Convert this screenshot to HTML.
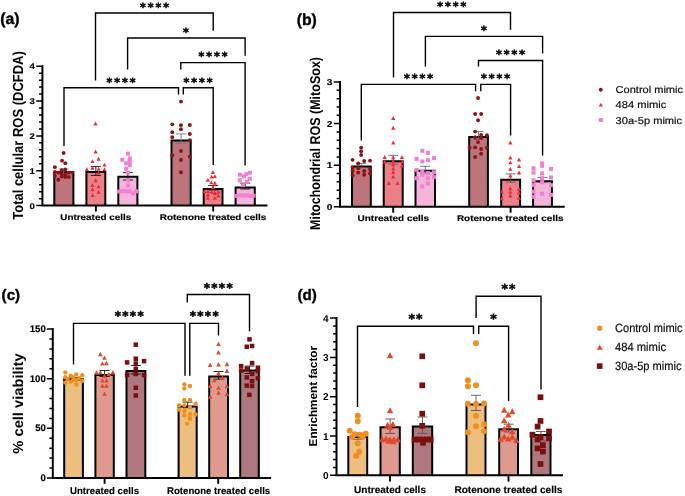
<!DOCTYPE html>
<html lang="en">
<head>
<meta charset="utf-8">
<title>ROS and cell viability figure</title>
<style>
html,body{margin:0;padding:0;background:#fff;}
body{width:685px;height:496px;overflow:hidden;}
svg{display:block;filter:blur(0.3px);}
svg text{font-family:"Liberation Sans",sans-serif;fill:#000;text-rendering:geometricPrecision;}
svg text.lg{fill:#111;stroke:#111;stroke-width:0.2px;}
svg text.bt{font-weight:bold;}
svg text.pl{font-weight:bold;stroke:#000;stroke-width:0.35px;}
svg text.b{font-weight:bold;stroke:#000;stroke-width:0.15px;}
svg text.st{font-family:"DejaVu Sans","Liberation Sans",sans-serif;font-weight:bold;stroke:#000;stroke-width:0.55px;}
</style>
</head>
<body>
<svg width="685" height="496" viewBox="0 0 685 496">
<rect width="685" height="496" fill="#fff"/>
<g>
<path d="M54.3 205.6V172H73.4V205.6" fill="#BD747B" stroke="#000" stroke-width="2"/>
<path d="M86.4 205.6V171.9H105.3V205.6" fill="#EC808A" stroke="#000" stroke-width="2"/>
<path d="M118.3 205.6V176.8H137.4V205.6" fill="#F4B4DC" stroke="#000" stroke-width="2"/>
<path d="M171.5 205.6V140.4H190.7V205.6" fill="#BD747B" stroke="#000" stroke-width="2"/>
<path d="M203.7 205.6V189H222.5V205.6" fill="#EC808A" stroke="#000" stroke-width="2"/>
<path d="M235.6 205.6V187.5H254.8V205.6" fill="#F4B4DC" stroke="#000" stroke-width="2"/>
<path d="M58.85 168.7H68.85M58.85 173.4H68.85M63.85 168.7V173.4" stroke="#a9a9a9" stroke-width="0.9" fill="none"/>
<path d="M90.85 166.4H100.85M90.85 175.4H100.85M95.85 166.4V175.4" stroke="#111" stroke-width="0.9" fill="none"/>
<path d="M122.85 172.6H132.85M122.85 180H132.85M127.85 172.6V180" stroke="#111" stroke-width="0.9" fill="none"/>
<path d="M176.1 133.9H186.1M176.1 143.2H186.1M181.1 133.9V143.2" stroke="#777" stroke-width="0.9" fill="none"/>
<path d="M208.1 185.6H218.1M208.1 190H218.1M213.1 185.6V190" stroke="#111" stroke-width="0.9" fill="none"/>
<path d="M240.2 183.2H250.2M240.2 189H250.2M245.2 183.2V189" stroke="#111" stroke-width="0.9" fill="none"/>
<circle cx="63.6" cy="153.04" r="1.95" fill="#8B1418"/>
<circle cx="62.05" cy="160.65" r="1.95" fill="#8B1418"/>
<circle cx="65.31" cy="163.29" r="1.95" fill="#8B1418"/>
<circle cx="54.91" cy="167.17" r="1.95" fill="#8B1418"/>
<circle cx="65.31" cy="169.5" r="1.95" fill="#8B1418"/>
<circle cx="61.74" cy="170.28" r="1.95" fill="#8B1418"/>
<circle cx="54.91" cy="171.83" r="1.95" fill="#8B1418"/>
<circle cx="58.32" cy="172.61" r="1.95" fill="#8B1418"/>
<circle cx="68.73" cy="172.61" r="1.95" fill="#8B1418"/>
<circle cx="72.14" cy="172.61" r="1.95" fill="#8B1418"/>
<circle cx="61.74" cy="174.16" r="1.95" fill="#8B1418"/>
<circle cx="65.31" cy="174.47" r="1.95" fill="#8B1418"/>
<circle cx="54.91" cy="176.02" r="1.95" fill="#8B1418"/>
<circle cx="61.74" cy="176.49" r="1.95" fill="#8B1418"/>
<circle cx="65.31" cy="176.96" r="1.95" fill="#8B1418"/>
<circle cx="68.73" cy="176.96" r="1.95" fill="#8B1418"/>
<circle cx="58.32" cy="179.75" r="1.95" fill="#8B1418"/>
<path d="M95.59 149.5L97.7 153.4L93.48 153.4Z" fill="#EE2A35"/>
<path d="M98.54 156.8L100.65 160.7L96.43 160.7Z" fill="#EE2A35"/>
<path d="M92.48 159.13L94.59 163.03L90.38 163.03Z" fill="#EE2A35"/>
<path d="M104.44 162.7L106.55 166.6L102.33 166.6Z" fill="#EE2A35"/>
<path d="M92.48 165.81L94.59 169.71L90.38 169.71Z" fill="#EE2A35"/>
<path d="M98.54 166.74L100.65 170.64L96.43 170.64Z" fill="#EE2A35"/>
<path d="M86.89 167.36L89 171.26L84.79 171.26Z" fill="#EE2A35"/>
<path d="M104.44 167.36L106.55 171.26L102.33 171.26Z" fill="#EE2A35"/>
<path d="M98.54 170.77L100.65 174.67L96.43 174.67Z" fill="#EE2A35"/>
<path d="M95.59 178.23L97.7 182.13L93.48 182.13Z" fill="#EE2A35"/>
<path d="M92.48 183.2L94.59 187.1L90.38 187.1Z" fill="#EE2A35"/>
<path d="M98.54 184.44L100.65 188.34L96.43 188.34Z" fill="#EE2A35"/>
<path d="M92.48 187.23L94.59 191.13L90.38 191.13Z" fill="#EE2A35"/>
<path d="M98.54 189.87L100.65 193.77L96.43 193.77Z" fill="#EE2A35"/>
<path d="M92.48 192.98L94.59 196.88L90.38 196.88Z" fill="#EE2A35"/>
<path d="M95.5 121.56L97.61 125.45L93.39 125.45Z" fill="#EE2A35"/>
<rect x="125.86" y="151.64" width="4.06" height="4.06" fill="#F27FD0"/>
<rect x="120.27" y="157.85" width="4.06" height="4.06" fill="#F27FD0"/>
<rect x="127.72" y="156.29" width="4.06" height="4.06" fill="#F27FD0"/>
<rect x="127.72" y="159.4" width="4.06" height="4.06" fill="#F27FD0"/>
<rect x="124.15" y="161.26" width="4.06" height="4.06" fill="#F27FD0"/>
<rect x="127.72" y="163.13" width="4.06" height="4.06" fill="#F27FD0"/>
<rect x="124.15" y="166.7" width="4.06" height="4.06" fill="#F27FD0"/>
<rect x="125.86" y="170.58" width="4.06" height="4.06" fill="#F27FD0"/>
<rect x="125.86" y="178.03" width="4.06" height="4.06" fill="#F27FD0"/>
<rect x="125.86" y="183.47" width="4.06" height="4.06" fill="#F27FD0"/>
<rect x="117.16" y="189.52" width="4.06" height="4.06" fill="#F27FD0"/>
<rect x="120.74" y="188.9" width="4.06" height="4.06" fill="#F27FD0"/>
<rect x="124.15" y="189.21" width="4.06" height="4.06" fill="#F27FD0"/>
<rect x="127.72" y="189.21" width="4.06" height="4.06" fill="#F27FD0"/>
<rect x="131.14" y="191.23" width="4.06" height="4.06" fill="#F27FD0"/>
<rect x="134.56" y="189.21" width="4.06" height="4.06" fill="#F27FD0"/>
<circle cx="180.97" cy="101.61" r="1.95" fill="#8B1418"/>
<circle cx="172.26" cy="124.35" r="1.95" fill="#8B1418"/>
<circle cx="180.97" cy="125.16" r="1.95" fill="#8B1418"/>
<circle cx="189.84" cy="125" r="1.95" fill="#8B1418"/>
<circle cx="180.97" cy="129.19" r="1.95" fill="#8B1418"/>
<circle cx="172.26" cy="132.26" r="1.95" fill="#8B1418"/>
<circle cx="189.84" cy="134.03" r="1.95" fill="#8B1418"/>
<circle cx="172.26" cy="137.26" r="1.95" fill="#8B1418"/>
<circle cx="189.84" cy="140.16" r="1.95" fill="#8B1418"/>
<circle cx="180.97" cy="150.97" r="1.95" fill="#8B1418"/>
<circle cx="172.26" cy="155.48" r="1.95" fill="#8B1418"/>
<circle cx="189.84" cy="156.61" r="1.95" fill="#8B1418"/>
<circle cx="180.97" cy="160" r="1.95" fill="#8B1418"/>
<circle cx="180.97" cy="172.26" r="1.95" fill="#8B1418"/>
<path d="M212.9 170.11L215.01 174.01L210.8 174.01Z" fill="#EE2A35"/>
<path d="M211.61 174.63L213.72 178.53L209.51 178.53Z" fill="#EE2A35"/>
<path d="M214.84 174.15L216.94 178.05L212.73 178.05Z" fill="#EE2A35"/>
<path d="M207.9 177.85L210.01 181.75L205.8 181.75Z" fill="#EE2A35"/>
<path d="M211.29 180.44L213.4 184.34L209.18 184.34Z" fill="#EE2A35"/>
<path d="M214.84 180.76L216.94 184.66L212.73 184.66Z" fill="#EE2A35"/>
<path d="M212.9 185.44L215.01 189.34L210.8 189.34Z" fill="#EE2A35"/>
<path d="M204.35 189.47L206.46 193.37L202.25 193.37Z" fill="#EE2A35"/>
<path d="M207.9 189.15L210.01 193.05L205.8 193.05Z" fill="#EE2A35"/>
<path d="M211.61 189.79L213.72 193.69L209.51 193.69Z" fill="#EE2A35"/>
<path d="M214.84 190.44L216.94 194.34L212.73 194.34Z" fill="#EE2A35"/>
<path d="M218.39 189.79L220.49 193.69L216.28 193.69Z" fill="#EE2A35"/>
<path d="M207.9 192.69L210.01 196.59L205.8 196.59Z" fill="#EE2A35"/>
<path d="M214.84 191.4L216.94 195.3L212.73 195.3Z" fill="#EE2A35"/>
<path d="M218.39 193.5L220.49 197.4L216.28 197.4Z" fill="#EE2A35"/>
<path d="M207.9 195.92L210.01 199.82L205.8 199.82Z" fill="#EE2A35"/>
<path d="M214.84 195.92L216.94 199.82L212.73 199.82Z" fill="#EE2A35"/>
<rect x="247.81" y="170.71" width="4.06" height="4.06" fill="#F27FD0"/>
<rect x="237.81" y="172.65" width="4.06" height="4.06" fill="#F27FD0"/>
<rect x="244.26" y="172.17" width="4.06" height="4.06" fill="#F27FD0"/>
<rect x="241.84" y="174.26" width="4.06" height="4.06" fill="#F27FD0"/>
<rect x="247.81" y="176.68" width="4.06" height="4.06" fill="#F27FD0"/>
<rect x="237.81" y="178.29" width="4.06" height="4.06" fill="#F27FD0"/>
<rect x="245.07" y="179.91" width="4.06" height="4.06" fill="#F27FD0"/>
<rect x="241.04" y="183.13" width="4.06" height="4.06" fill="#F27FD0"/>
<rect x="234.1" y="193.94" width="4.06" height="4.06" fill="#F27FD0"/>
<rect x="237.81" y="193.29" width="4.06" height="4.06" fill="#F27FD0"/>
<rect x="241.36" y="193.62" width="4.06" height="4.06" fill="#F27FD0"/>
<rect x="245.07" y="193.29" width="4.06" height="4.06" fill="#F27FD0"/>
<rect x="248.62" y="193.94" width="4.06" height="4.06" fill="#F27FD0"/>
<rect x="251.52" y="193.62" width="4.06" height="4.06" fill="#F27FD0"/>
<path d="M42.4 66.2V205.6H266.5" stroke="#000" stroke-width="2" fill="none" stroke-linecap="square"/>
<path d="M42.4 205.6H36.2M42.4 198.63H39M42.4 191.66H39M42.4 184.69H39M42.4 177.72H39M42.4 170.75H36.2M42.4 163.78H39M42.4 156.81H39M42.4 149.84H39M42.4 142.87H39M42.4 135.9H36.2M42.4 128.93H39M42.4 121.96H39M42.4 114.99H39M42.4 108.02H39M42.4 101.05H36.2M42.4 94.08H39M42.4 87.11H39M42.4 80.14H39M42.4 73.17H39M42.4 66.2H36.2" stroke="#000" stroke-width="1.5" fill="none"/>
<text transform="translate(34.9 208.57) scale(1.15 1)" text-anchor="end" class="b" font-size="8.3">0</text>
<text transform="translate(34.9 173.72) scale(1.15 1)" text-anchor="end" class="b" font-size="8.3">1</text>
<text transform="translate(34.9 138.87) scale(1.15 1)" text-anchor="end" class="b" font-size="8.3">2</text>
<text transform="translate(34.9 104.02) scale(1.15 1)" text-anchor="end" class="b" font-size="8.3">3</text>
<text transform="translate(34.9 69.17) scale(1.15 1)" text-anchor="end" class="b" font-size="8.3">4</text>
<path d="M95.9 205.6V211.5" stroke="#000" stroke-width="1.9"/>
<path d="M213.2 205.6V211.5" stroke="#000" stroke-width="1.9"/>
<text x="95.75" y="220.1" text-anchor="middle" class="b" font-size="8.4" textLength="70.9" lengthAdjust="spacingAndGlyphs">Untreated cells</text>
<text x="213" y="220.1" text-anchor="middle" class="b" font-size="8.4" textLength="106.5" lengthAdjust="spacingAndGlyphs">Rotenone treated cells</text>
<text transform="translate(23.3 135.5) rotate(-90)" text-anchor="middle" font-weight="bold" font-size="14.6" textLength="168.5" lengthAdjust="spacingAndGlyphs">Total cellular ROS (DCFDA)</text>
<text x="0.3" y="24.4" class="pl" font-size="15.8">(a)</text>
<path d="M95.5 80.4V13H213.2V30.7" stroke="#000" stroke-width="1.4" fill="none"/>
<text x="140 147.75 155.5 163.25" y="10.81" class="st" font-size="11">****</text>
<path d="M127.6 69.6V38H245.1V55.8" stroke="#000" stroke-width="1.4" fill="none"/>
<text x="183.12" y="35.81" class="st" font-size="11">*</text>
<path d="M180.8 69.6V62.6H245.1V165.5" stroke="#000" stroke-width="1.4" fill="none"/>
<text x="198.5 206.25 214 221.75" y="60.41" class="st" font-size="11">****</text>
<path d="M64 145.9V87.7H178.5V94.5" stroke="#000" stroke-width="1.4" fill="none"/>
<text x="106.5 114.25 122 129.75" y="85.51" class="st" font-size="11">****</text>
<path d="M183.3 94.5V87.7H213.2V165" stroke="#000" stroke-width="1.4" fill="none"/>
<text x="183.5 191.25 199 206.75" y="85.51" class="st" font-size="11">****</text>
</g>
<g>
<path d="M352 206.8V166.5H370.8V206.8" fill="#BD747B" stroke="#000" stroke-width="2"/>
<path d="M383.7 206.8V161.2H402.7V206.8" fill="#EC808A" stroke="#000" stroke-width="2"/>
<path d="M415.5 206.8V170.8H435V206.8" fill="#F4B4DC" stroke="#000" stroke-width="2"/>
<path d="M469.2 206.8V137.1H487.9V206.8" fill="#BD747B" stroke="#000" stroke-width="2"/>
<path d="M501.2 206.8V179.7H520.1V206.8" fill="#EC808A" stroke="#000" stroke-width="2"/>
<path d="M533.1 206.8V181.3H551.9V206.8" fill="#F4B4DC" stroke="#000" stroke-width="2"/>
<path d="M356.4 163.4H366.4M356.4 167.5H366.4M361.4 163.4V167.5" stroke="#555" stroke-width="0.8" fill="none"/>
<path d="M388.2 155.3H398.2M388.2 164.2H398.2M393.2 155.3V164.2" stroke="#555" stroke-width="0.8" fill="none"/>
<path d="M420.25 166.3H430.25M420.25 173H430.25M425.25 166.3V173" stroke="#555" stroke-width="0.8" fill="none"/>
<path d="M473.55 131.6H483.55M473.55 139.4H483.55M478.55 131.6V139.4" stroke="#555" stroke-width="0.8" fill="none"/>
<path d="M505.65 173.9H515.65M505.65 182.3H515.65M510.65 173.9V182.3" stroke="#555" stroke-width="0.8" fill="none"/>
<path d="M537.5 177.4H547.5M537.5 182.3H547.5M542.5 177.4V182.3" stroke="#555" stroke-width="0.8" fill="none"/>
<circle cx="361.13" cy="147.58" r="1.95" fill="#8B1418"/>
<circle cx="361.13" cy="151.29" r="1.95" fill="#8B1418"/>
<circle cx="361.13" cy="155" r="1.95" fill="#8B1418"/>
<circle cx="352.58" cy="159.84" r="1.95" fill="#8B1418"/>
<circle cx="364.19" cy="160.97" r="1.95" fill="#8B1418"/>
<circle cx="370" cy="160.65" r="1.95" fill="#8B1418"/>
<circle cx="358.23" cy="163.39" r="1.95" fill="#8B1418"/>
<circle cx="352.58" cy="167.42" r="1.95" fill="#8B1418"/>
<circle cx="358.23" cy="168.23" r="1.95" fill="#8B1418"/>
<circle cx="370" cy="169.35" r="1.95" fill="#8B1418"/>
<circle cx="352.58" cy="170.97" r="1.95" fill="#8B1418"/>
<circle cx="364.19" cy="170.97" r="1.95" fill="#8B1418"/>
<circle cx="358.23" cy="172.58" r="1.95" fill="#8B1418"/>
<circle cx="370" cy="173.39" r="1.95" fill="#8B1418"/>
<circle cx="364.19" cy="174.68" r="1.95" fill="#8B1418"/>
<circle cx="352.58" cy="175.48" r="1.95" fill="#8B1418"/>
<path d="M393.23 140.6L395.33 144.5L391.12 144.5Z" fill="#EE2A35"/>
<path d="M384.68 155.11L386.78 159.01L382.57 159.01Z" fill="#EE2A35"/>
<path d="M401.94 155.11L404.04 159.01L399.83 159.01Z" fill="#EE2A35"/>
<path d="M393.23 158.82L395.33 162.72L391.12 162.72Z" fill="#EE2A35"/>
<path d="M384.68 159.63L386.78 163.53L382.57 163.53Z" fill="#EE2A35"/>
<path d="M401.94 159.63L404.04 163.53L399.83 163.53Z" fill="#EE2A35"/>
<path d="M393.23 162.53L395.33 166.43L391.12 166.43Z" fill="#EE2A35"/>
<path d="M401.94 163.66L404.04 167.56L399.83 167.56Z" fill="#EE2A35"/>
<path d="M393.23 166.4L395.33 170.3L391.12 170.3Z" fill="#EE2A35"/>
<path d="M393.23 170.11L395.33 174.01L391.12 174.01Z" fill="#EE2A35"/>
<path d="M393.23 174.63L395.33 178.53L391.12 178.53Z" fill="#EE2A35"/>
<path d="M388.87 181.08L390.98 184.98L386.76 184.98Z" fill="#EE2A35"/>
<path d="M397.58 181.08L399.69 184.98L395.47 184.98Z" fill="#EE2A35"/>
<path d="M393.23 116.08L395.33 119.98L391.12 119.98Z" fill="#EE2A35"/>
<path d="M393.23 125.76L395.33 129.66L391.12 129.66Z" fill="#EE2A35"/>
<path d="M393.2 155.45L395.31 159.35L391.09 159.35Z" fill="#EE2A35"/>
<rect x="420.23" y="148.78" width="4.06" height="4.06" fill="#F27FD0"/>
<rect x="425.88" y="150.88" width="4.06" height="4.06" fill="#F27FD0"/>
<rect x="432" y="156.04" width="4.06" height="4.06" fill="#F27FD0"/>
<rect x="414.58" y="156.84" width="4.06" height="4.06" fill="#F27FD0"/>
<rect x="425.88" y="158.13" width="4.06" height="4.06" fill="#F27FD0"/>
<rect x="420.23" y="159.42" width="4.06" height="4.06" fill="#F27FD0"/>
<rect x="414.58" y="167.81" width="4.06" height="4.06" fill="#F27FD0"/>
<rect x="420.23" y="169.75" width="4.06" height="4.06" fill="#F27FD0"/>
<rect x="432" y="170.23" width="4.06" height="4.06" fill="#F27FD0"/>
<rect x="425.88" y="171.04" width="4.06" height="4.06" fill="#F27FD0"/>
<rect x="420.23" y="172.65" width="4.06" height="4.06" fill="#F27FD0"/>
<rect x="432" y="175.07" width="4.06" height="4.06" fill="#F27FD0"/>
<rect x="414.58" y="176.2" width="4.06" height="4.06" fill="#F27FD0"/>
<rect x="425.88" y="176.36" width="4.06" height="4.06" fill="#F27FD0"/>
<rect x="425.88" y="181.52" width="4.06" height="4.06" fill="#F27FD0"/>
<rect x="420.23" y="184.42" width="4.06" height="4.06" fill="#F27FD0"/>
<circle cx="478.06" cy="98.06" r="1.95" fill="#8B1418"/>
<circle cx="475.16" cy="114.03" r="1.95" fill="#8B1418"/>
<circle cx="481.13" cy="114.03" r="1.95" fill="#8B1418"/>
<circle cx="478.06" cy="120.32" r="1.95" fill="#8B1418"/>
<circle cx="475.16" cy="131.61" r="1.95" fill="#8B1418"/>
<circle cx="481.13" cy="134.84" r="1.95" fill="#8B1418"/>
<circle cx="486.94" cy="135.32" r="1.95" fill="#8B1418"/>
<circle cx="475.16" cy="137.26" r="1.95" fill="#8B1418"/>
<circle cx="481.13" cy="137.74" r="1.95" fill="#8B1418"/>
<circle cx="478.06" cy="142.1" r="1.95" fill="#8B1418"/>
<circle cx="469.52" cy="147.74" r="1.95" fill="#8B1418"/>
<circle cx="475.16" cy="147.42" r="1.95" fill="#8B1418"/>
<circle cx="486.94" cy="147.74" r="1.95" fill="#8B1418"/>
<circle cx="481.13" cy="149.03" r="1.95" fill="#8B1418"/>
<circle cx="481.13" cy="153.71" r="1.95" fill="#8B1418"/>
<circle cx="475.16" cy="156.94" r="1.95" fill="#8B1418"/>
<path d="M510.32 140.6L512.43 144.5L508.22 144.5Z" fill="#EE2A35"/>
<path d="M510.32 155.6L512.43 159.5L508.22 159.5Z" fill="#EE2A35"/>
<path d="M519.03 157.53L521.14 161.43L516.93 161.43Z" fill="#EE2A35"/>
<path d="M510.32 160.44L512.43 164.34L508.22 164.34Z" fill="#EE2A35"/>
<path d="M519.03 164.15L521.14 168.05L516.93 168.05Z" fill="#EE2A35"/>
<path d="M510.32 166.89L512.43 170.79L508.22 170.79Z" fill="#EE2A35"/>
<path d="M519.03 170.6L521.14 174.5L516.93 174.5Z" fill="#EE2A35"/>
<path d="M510.32 173.66L512.43 177.56L508.22 177.56Z" fill="#EE2A35"/>
<path d="M510.32 186.24L512.43 190.14L508.22 190.14Z" fill="#EE2A35"/>
<path d="M519.03 187.05L521.14 190.95L516.93 190.95Z" fill="#EE2A35"/>
<path d="M501.77 189.47L503.88 193.37L499.67 193.37Z" fill="#EE2A35"/>
<path d="M510.32 189.95L512.43 193.85L508.22 193.85Z" fill="#EE2A35"/>
<path d="M519.03 190.76L521.14 194.66L516.93 194.66Z" fill="#EE2A35"/>
<path d="M510.32 193.5L512.43 197.4L508.22 197.4Z" fill="#EE2A35"/>
<path d="M501.77 196.4L503.88 200.3L499.67 200.3Z" fill="#EE2A35"/>
<path d="M519.03 195.92L521.14 199.82L516.93 199.82Z" fill="#EE2A35"/>
<rect x="540.07" y="161.36" width="4.06" height="4.06" fill="#F27FD0"/>
<rect x="540.07" y="163.78" width="4.06" height="4.06" fill="#F27FD0"/>
<rect x="531.52" y="166.2" width="4.06" height="4.06" fill="#F27FD0"/>
<rect x="548.94" y="167" width="4.06" height="4.06" fill="#F27FD0"/>
<rect x="531.52" y="170.55" width="4.06" height="4.06" fill="#F27FD0"/>
<rect x="540.07" y="171.36" width="4.06" height="4.06" fill="#F27FD0"/>
<rect x="548.94" y="175.39" width="4.06" height="4.06" fill="#F27FD0"/>
<rect x="540.07" y="176.2" width="4.06" height="4.06" fill="#F27FD0"/>
<rect x="531.52" y="178.29" width="4.06" height="4.06" fill="#F27FD0"/>
<rect x="540.07" y="180.23" width="4.06" height="4.06" fill="#F27FD0"/>
<rect x="548.94" y="183.13" width="4.06" height="4.06" fill="#F27FD0"/>
<rect x="531.52" y="183.13" width="4.06" height="4.06" fill="#F27FD0"/>
<rect x="531.52" y="189.58" width="4.06" height="4.06" fill="#F27FD0"/>
<rect x="540.07" y="191.68" width="4.06" height="4.06" fill="#F27FD0"/>
<rect x="548.94" y="192.81" width="4.06" height="4.06" fill="#F27FD0"/>
<rect x="531.52" y="194.75" width="4.06" height="4.06" fill="#F27FD0"/>
<path d="M340 82V206.8H563.7" stroke="#000" stroke-width="2" fill="none" stroke-linecap="square"/>
<path d="M340 206.8H333.8M340 198.48H336.6M340 190.16H336.6M340 181.84H336.6M340 173.52H336.6M340 165.2H333.8M340 156.88H336.6M340 148.56H336.6M340 140.24H336.6M340 131.92H336.6M340 123.6H333.8M340 115.28H336.6M340 106.96H336.6M340 98.64H336.6M340 90.32H336.6M340 82H333.8" stroke="#000" stroke-width="1.5" fill="none"/>
<text transform="translate(332.5 209.84) scale(1.2 1)" text-anchor="end" class="b" font-size="8.5">0</text>
<text transform="translate(332.5 168.24) scale(1.2 1)" text-anchor="end" class="b" font-size="8.5">1</text>
<text transform="translate(332.5 126.64) scale(1.2 1)" text-anchor="end" class="b" font-size="8.5">2</text>
<text transform="translate(332.5 85.04) scale(1.2 1)" text-anchor="end" class="b" font-size="8.5">3</text>
<path d="M393.2 206.8V212.7" stroke="#000" stroke-width="1.9"/>
<path d="M510.6 206.8V212.7" stroke="#000" stroke-width="1.9"/>
<text x="393.3" y="221" text-anchor="middle" class="b" font-size="8.4" textLength="71.6" lengthAdjust="spacingAndGlyphs">Untreated cells</text>
<text x="510.2" y="221" text-anchor="middle" class="b" font-size="8.4" textLength="106.5" lengthAdjust="spacingAndGlyphs">Rotenone treated cells</text>
<text transform="translate(319.8 143.5) rotate(-90)" text-anchor="middle" font-weight="bold" font-size="14.2" textLength="173" lengthAdjust="spacingAndGlyphs">Mitochondrial ROS (MitoSox)</text>
<text x="296.7" y="24.8" class="pl" font-size="15.8">(b)</text>
<path d="M393.5 77.5V12.5H510.5V29.8" stroke="#000" stroke-width="1.4" fill="none"/>
<text x="437.3 445.05 452.8 460.55" y="10.31" class="st" font-size="11">****</text>
<path d="M425.4 66.5V36.4H542.6V53.5" stroke="#000" stroke-width="1.4" fill="none"/>
<text x="481.12" y="34.21" class="st" font-size="11">*</text>
<path d="M478.5 66.5V60.5H542.6V155.6" stroke="#000" stroke-width="1.4" fill="none"/>
<text x="496 503.75 511.5 519.25" y="58.31" class="st" font-size="11">****</text>
<path d="M361.3 140.6V84.4H475.6V91.3" stroke="#000" stroke-width="1.4" fill="none"/>
<text x="404 411.75 419.5 427.25" y="82.21" class="st" font-size="11">****</text>
<path d="M480.8 91.3V84.4H510.6V135.6" stroke="#000" stroke-width="1.4" fill="none"/>
<text x="480.9 488.65 496.4 504.15" y="82.21" class="st" font-size="11">****</text>
<circle cx="600.8" cy="89.7" r="1.95" fill="#8B1418"/>
<text x="615.6" y="93.3" font-size="10" class="lg" textLength="67.4" lengthAdjust="spacingAndGlyphs">Control mimic</text>
<path d="M600.8 102.66L602.91 106.55L598.69 106.55Z" fill="#EE2A35"/>
<text x="615.6" y="108.4" font-size="10" class="lg" textLength="50.8" lengthAdjust="spacingAndGlyphs">484 mimic</text>
<rect x="598.77" y="117.97" width="4.06" height="4.06" fill="#F27FD0"/>
<text x="615.6" y="123.6" font-size="10" class="lg" textLength="66.5" lengthAdjust="spacingAndGlyphs">30a-5p mimic</text>
</g>
<g>
<path d="M64.2 477.9V379.3H82.9V477.9" fill="#EDBE7D" stroke="#000" stroke-width="2"/>
<path d="M95.4 477.9V375.1H113.8V477.9" fill="#E0998E" stroke="#000" stroke-width="2"/>
<path d="M126.5 477.9V371.1H145.3V477.9" fill="#AE787E" stroke="#000" stroke-width="2"/>
<path d="M178.6 477.9V406.4H196.7V477.9" fill="#EDBE7D" stroke="#000" stroke-width="2"/>
<path d="M209.2 477.9V376.4H228V477.9" fill="#E0998E" stroke="#000" stroke-width="2"/>
<path d="M240.2 477.9V370.4H258.8V477.9" fill="#AE787E" stroke="#000" stroke-width="2"/>
<path d="M68.55 377.5H78.55M68.55 380.5H78.55M73.55 377.5V380.5" stroke="#111" stroke-width="0.9" fill="none"/>
<path d="M99.6 370.5H109.6M99.6 376.5H109.6M104.6 370.5V376.5" stroke="#111" stroke-width="0.9" fill="none"/>
<path d="M130.9 365.5H140.9M130.9 374H140.9M135.9 365.5V374" stroke="#111" stroke-width="0.9" fill="none"/>
<path d="M182.65 402.1H192.65M182.65 407.7H192.65M187.65 402.1V407.7" stroke="#111" stroke-width="0.9" fill="none"/>
<path d="M213.6 371.5H223.6M213.6 379.2H223.6M218.6 371.5V379.2" stroke="#111" stroke-width="0.9" fill="none"/>
<path d="M244.5 366.1H254.5M244.5 373.5H254.5M249.5 366.1V373.5" stroke="#111" stroke-width="0.9" fill="none"/>
<circle cx="65.32" cy="372.42" r="2.17" fill="#F28E1E"/>
<circle cx="76.29" cy="374.35" r="2.17" fill="#F28E1E"/>
<circle cx="82.26" cy="375.16" r="2.17" fill="#F28E1E"/>
<circle cx="70.65" cy="375.65" r="2.17" fill="#F28E1E"/>
<circle cx="65.32" cy="377.26" r="2.17" fill="#F28E1E"/>
<circle cx="73.39" cy="377.26" r="2.17" fill="#F28E1E"/>
<circle cx="79.03" cy="378.06" r="2.17" fill="#F28E1E"/>
<circle cx="67.74" cy="378.87" r="2.17" fill="#F28E1E"/>
<circle cx="76.29" cy="380" r="2.17" fill="#F28E1E"/>
<circle cx="82.26" cy="380.97" r="2.17" fill="#F28E1E"/>
<circle cx="70.65" cy="381.61" r="2.17" fill="#F28E1E"/>
<circle cx="65.32" cy="382.58" r="2.17" fill="#F28E1E"/>
<circle cx="76.29" cy="384.52" r="2.17" fill="#F28E1E"/>
<circle cx="73.39" cy="379.68" r="2.17" fill="#F28E1E"/>
<path d="M100.32 351.8L102.67 356.15L97.97 356.15Z" fill="#E04A2C"/>
<path d="M104.52 355.51L106.87 359.86L102.17 359.86Z" fill="#E04A2C"/>
<path d="M102.42 361.16L104.77 365.51L100.07 365.51Z" fill="#E04A2C"/>
<path d="M106.45 360.83L108.8 365.18L104.1 365.18Z" fill="#E04A2C"/>
<path d="M96.45 370.35L98.8 374.7L94.1 374.7Z" fill="#E04A2C"/>
<path d="M100.32 370.03L102.67 374.38L97.97 374.38Z" fill="#E04A2C"/>
<path d="M108.87 371.64L111.22 375.99L106.52 375.99Z" fill="#E04A2C"/>
<path d="M112.9 370.03L115.25 374.38L110.55 374.38Z" fill="#E04A2C"/>
<path d="M104.52 373.58L106.87 377.93L102.17 377.93Z" fill="#E04A2C"/>
<path d="M102.42 378.09L104.77 382.44L100.07 382.44Z" fill="#E04A2C"/>
<path d="M106.45 378.09L108.8 382.44L104.1 382.44Z" fill="#E04A2C"/>
<path d="M102.42 383.41L104.77 387.76L100.07 387.76Z" fill="#E04A2C"/>
<path d="M106.45 383.41L108.8 387.76L104.1 387.76Z" fill="#E04A2C"/>
<path d="M104.52 391.48L106.87 395.83L102.17 395.83Z" fill="#E04A2C"/>
<rect x="133.54" y="342.42" width="4.52" height="4.52" fill="#7A0F12"/>
<rect x="133.54" y="356.45" width="4.52" height="4.52" fill="#7A0F12"/>
<rect x="141.77" y="358.87" width="4.52" height="4.52" fill="#7A0F12"/>
<rect x="124.83" y="360.16" width="4.52" height="4.52" fill="#7A0F12"/>
<rect x="133.54" y="361.29" width="4.52" height="4.52" fill="#7A0F12"/>
<rect x="133.54" y="366.61" width="4.52" height="4.52" fill="#7A0F12"/>
<rect x="124.83" y="372.58" width="4.52" height="4.52" fill="#7A0F12"/>
<rect x="133.54" y="371.77" width="4.52" height="4.52" fill="#7A0F12"/>
<rect x="141.77" y="372.9" width="4.52" height="4.52" fill="#7A0F12"/>
<rect x="133.54" y="385.48" width="4.52" height="4.52" fill="#7A0F12"/>
<rect x="133.54" y="393.22" width="4.52" height="4.52" fill="#7A0F12"/>
<circle cx="184.35" cy="384.35" r="2.17" fill="#F28E1E"/>
<circle cx="190" cy="385.97" r="2.17" fill="#F28E1E"/>
<circle cx="184.35" cy="388.39" r="2.17" fill="#F28E1E"/>
<circle cx="184.35" cy="400" r="2.17" fill="#F28E1E"/>
<circle cx="190" cy="400" r="2.17" fill="#F28E1E"/>
<circle cx="195.65" cy="403.71" r="2.17" fill="#F28E1E"/>
<circle cx="179.03" cy="405.32" r="2.17" fill="#F28E1E"/>
<circle cx="184.35" cy="405.32" r="2.17" fill="#F28E1E"/>
<circle cx="190" cy="407.42" r="2.17" fill="#F28E1E"/>
<circle cx="179.03" cy="409.68" r="2.17" fill="#F28E1E"/>
<circle cx="184.35" cy="410.97" r="2.17" fill="#F28E1E"/>
<circle cx="190" cy="413.87" r="2.17" fill="#F28E1E"/>
<circle cx="195.65" cy="414.52" r="2.17" fill="#F28E1E"/>
<circle cx="184.35" cy="415.32" r="2.17" fill="#F28E1E"/>
<circle cx="190" cy="418.23" r="2.17" fill="#F28E1E"/>
<circle cx="190" cy="418.74" r="2.17" fill="#F28E1E"/>
<circle cx="187.1" cy="423.58" r="2.17" fill="#F28E1E"/>
<path d="M218.55 341.64L220.9 345.99L216.2 345.99Z" fill="#E04A2C"/>
<path d="M218.55 350.03L220.9 354.38L216.2 354.38Z" fill="#E04A2C"/>
<path d="M210.16 362.61L212.51 366.96L207.81 366.96Z" fill="#E04A2C"/>
<path d="M218.55 362.12L220.9 366.47L216.2 366.47Z" fill="#E04A2C"/>
<path d="M226.94 361.8L229.28 366.15L224.59 366.15Z" fill="#E04A2C"/>
<path d="M226.94 368.58L229.28 372.93L224.59 372.93Z" fill="#E04A2C"/>
<path d="M218.55 370.99L220.9 375.34L216.2 375.34Z" fill="#E04A2C"/>
<path d="M222.58 375.51L224.93 379.86L220.23 379.86Z" fill="#E04A2C"/>
<path d="M214.19 377.93L216.54 382.28L211.84 382.28Z" fill="#E04A2C"/>
<path d="M210.16 383.58L212.51 387.93L207.81 387.93Z" fill="#E04A2C"/>
<path d="M226.94 383.9L229.28 388.25L224.59 388.25Z" fill="#E04A2C"/>
<path d="M218.55 385.51L220.9 389.86L216.2 389.86Z" fill="#E04A2C"/>
<path d="M218.55 390.51L220.9 394.86L216.2 394.86Z" fill="#E04A2C"/>
<path d="M210.16 394.38L212.51 398.73L207.81 398.73Z" fill="#E04A2C"/>
<path d="M226.94 391.96L229.28 396.31L224.59 396.31Z" fill="#E04A2C"/>
<rect x="244.51" y="344.51" width="4.52" height="4.52" fill="#7A0F12"/>
<rect x="249.83" y="343.71" width="4.52" height="4.52" fill="#7A0F12"/>
<rect x="249.83" y="360.8" width="4.52" height="4.52" fill="#7A0F12"/>
<rect x="238.87" y="363.87" width="4.52" height="4.52" fill="#7A0F12"/>
<rect x="255.64" y="365.48" width="4.52" height="4.52" fill="#7A0F12"/>
<rect x="244.51" y="366.45" width="4.52" height="4.52" fill="#7A0F12"/>
<rect x="238.87" y="368.38" width="4.52" height="4.52" fill="#7A0F12"/>
<rect x="255.64" y="368.71" width="4.52" height="4.52" fill="#7A0F12"/>
<rect x="249.83" y="371.61" width="4.52" height="4.52" fill="#7A0F12"/>
<rect x="244.51" y="375.16" width="4.52" height="4.52" fill="#7A0F12"/>
<rect x="255.64" y="375.96" width="4.52" height="4.52" fill="#7A0F12"/>
<rect x="249.83" y="378.87" width="4.52" height="4.52" fill="#7A0F12"/>
<rect x="244.51" y="383.38" width="4.52" height="4.52" fill="#7A0F12"/>
<rect x="249.83" y="383.71" width="4.52" height="4.52" fill="#7A0F12"/>
<rect x="247.09" y="392.58" width="4.52" height="4.52" fill="#7A0F12"/>
<rect x="247.25" y="337.09" width="4.52" height="4.52" fill="#7A0F12"/>
<path d="M52.8 329.1V477.9H270.1" stroke="#000" stroke-width="2" fill="none" stroke-linecap="square"/>
<path d="M52.8 477.9H46.8M52.8 467.98H49.4M52.8 458.06H49.4M52.8 448.14H49.4M52.8 438.22H49.4M52.8 428.3H46.8M52.8 418.38H49.4M52.8 408.46H49.4M52.8 398.54H49.4M52.8 388.62H49.4M52.8 378.7H46.8M52.8 368.78H49.4M52.8 358.86H49.4M52.8 348.94H49.4M52.8 339.02H49.4M52.8 329.1H46.8" stroke="#000" stroke-width="1.5" fill="none"/>
<text transform="translate(45.8 480.94) scale(1 1)" text-anchor="end" class="b" font-size="9.6">0</text>
<text transform="translate(45.8 431.34) scale(1 1)" text-anchor="end" class="b" font-size="9.6">50</text>
<text transform="translate(45.8 381.74) scale(1 1)" text-anchor="end" class="b" font-size="9.6">100</text>
<text transform="translate(45.8 332.14) scale(1 1)" text-anchor="end" class="b" font-size="9.6">150</text>
<path d="M104.6 477.9V483.8" stroke="#000" stroke-width="1.9"/>
<path d="M218.2 477.9V483.8" stroke="#000" stroke-width="1.9"/>
<text x="104.5" y="494.1" text-anchor="middle" class="b" font-size="9.7" textLength="69" lengthAdjust="spacingAndGlyphs">Untreated cells</text>
<text x="218.6" y="494.1" text-anchor="middle" class="b" font-size="9.7" textLength="103.2" lengthAdjust="spacingAndGlyphs">Rotenone treated cells</text>
<text transform="translate(23.2 403.5) rotate(-90)" text-anchor="middle" font-weight="bold" font-size="14.4" textLength="100.3" lengthAdjust="spacingAndGlyphs">% cell viability</text>
<text x="1.6" y="300.1" class="pl" font-size="15.2">(c)</text>
<path d="M73.5 364.4V323.4H185V375.8" stroke="#000" stroke-width="1.4" fill="none"/>
<text x="114.66 122.26 129.86 137.46" y="319.72" class="st" font-size="12">****</text>
<path d="M189.8 375.8V323.4H218.5V335.6" stroke="#000" stroke-width="1.4" fill="none"/>
<text x="189.66 197.26 204.86 212.46" y="319.72" class="st" font-size="12">****</text>
<path d="M187.3 302.6V294.5H249.5V331.3" stroke="#000" stroke-width="1.4" fill="none"/>
<text x="203.66 211.26 218.86 226.46" y="291.62" class="st" font-size="12">****</text>
</g>
<g>
<path d="M348.3 475.3V436.9H367.2V475.3" fill="#EDBE7D" stroke="#000" stroke-width="2"/>
<path d="M380.5 475.3V427.3H399.8V475.3" fill="#E0998E" stroke="#000" stroke-width="2"/>
<path d="M412.8 475.3V426.4H432.2V475.3" fill="#AE787E" stroke="#000" stroke-width="2"/>
<path d="M466.5 475.3V404.5H485.5V475.3" fill="#EDBE7D" stroke="#000" stroke-width="2"/>
<path d="M499.2 475.3V429.2H518V475.3" fill="#E0998E" stroke="#000" stroke-width="2"/>
<path d="M531.3 475.3V435H550.5V475.3" fill="#AE787E" stroke="#000" stroke-width="2"/>
<path d="M352.75 433H362.75M352.75 439.2H362.75M357.75 433V439.2" stroke="#555" stroke-width="0.9" fill="none"/>
<path d="M385.15 419H395.15M385.15 433.4H395.15M390.15 419V433.4" stroke="#555" stroke-width="0.9" fill="none"/>
<path d="M417.5 417H427.5M417.5 433.4H427.5M422.5 417V433.4" stroke="#555" stroke-width="0.9" fill="none"/>
<path d="M471 395.3H481M471 410.5H481M476 395.3V410.5" stroke="#555" stroke-width="0.9" fill="none"/>
<path d="M503.6 424.2H513.6M503.6 432H513.6M508.6 424.2V432" stroke="#555" stroke-width="0.9" fill="none"/>
<path d="M535.9 431.5H545.9M535.9 441H545.9M540.9 431.5V441" stroke="#555" stroke-width="0.9" fill="none"/>
<circle cx="357.74" cy="415.65" r="3" fill="#F28E1E"/>
<circle cx="357.74" cy="421.29" r="3" fill="#F28E1E"/>
<circle cx="349.68" cy="430.65" r="3" fill="#F28E1E"/>
<circle cx="365.81" cy="433.87" r="3" fill="#F28E1E"/>
<circle cx="354.52" cy="434.35" r="3" fill="#F28E1E"/>
<circle cx="360.16" cy="434.68" r="3" fill="#F28E1E"/>
<circle cx="352.1" cy="437.1" r="3" fill="#F28E1E"/>
<circle cx="362.58" cy="436.77" r="3" fill="#F28E1E"/>
<circle cx="357.74" cy="443.23" r="3" fill="#F28E1E"/>
<circle cx="359.35" cy="451.61" r="3" fill="#F28E1E"/>
<circle cx="356.13" cy="455.65" r="3" fill="#F28E1E"/>
<path d="M390 407.18L393.24 413.18L386.76 413.18Z" fill="#E04A2C"/>
<path d="M387.58 421.7L390.82 427.7L384.34 427.7Z" fill="#E04A2C"/>
<path d="M392.9 420.89L396.14 426.89L389.66 426.89Z" fill="#E04A2C"/>
<path d="M390 424.12L393.24 430.12L386.76 430.12Z" fill="#E04A2C"/>
<path d="M382.26 436.22L385.5 442.22L379.02 442.22Z" fill="#E04A2C"/>
<path d="M385.97 435.41L389.21 441.41L382.73 441.41Z" fill="#E04A2C"/>
<path d="M390 436.22L393.24 442.22L386.76 442.22Z" fill="#E04A2C"/>
<path d="M394.03 436.22L397.27 442.22L390.79 442.22Z" fill="#E04A2C"/>
<path d="M397.74 436.22L400.98 442.22L394.5 442.22Z" fill="#E04A2C"/>
<path d="M388.39 437.83L391.63 443.83L385.15 443.83Z" fill="#E04A2C"/>
<path d="M393.23 438.31L396.47 444.31L389.99 444.31Z" fill="#E04A2C"/>
<path d="M390 352.18L393.24 358.18L386.76 358.18Z" fill="#E04A2C"/>
<rect x="419.4" y="410.85" width="5.72" height="5.72" fill="#7A0F12"/>
<rect x="419.4" y="422.95" width="5.72" height="5.72" fill="#7A0F12"/>
<rect x="411.66" y="436.66" width="5.72" height="5.72" fill="#7A0F12"/>
<rect x="416.17" y="436.66" width="5.72" height="5.72" fill="#7A0F12"/>
<rect x="420.2" y="436.66" width="5.72" height="5.72" fill="#7A0F12"/>
<rect x="424.24" y="436.66" width="5.72" height="5.72" fill="#7A0F12"/>
<rect x="427.79" y="436.66" width="5.72" height="5.72" fill="#7A0F12"/>
<rect x="420.2" y="439.88" width="5.72" height="5.72" fill="#7A0F12"/>
<rect x="419.4" y="353.43" width="5.72" height="5.72" fill="#7A0F12"/>
<rect x="419.4" y="382.46" width="5.72" height="5.72" fill="#7A0F12"/>
<circle cx="475.97" cy="343.23" r="3" fill="#F28E1E"/>
<circle cx="467.9" cy="380.32" r="3" fill="#F28E1E"/>
<circle cx="467.9" cy="386.29" r="3" fill="#F28E1E"/>
<circle cx="475.97" cy="385.16" r="3" fill="#F28E1E"/>
<circle cx="467.9" cy="403.71" r="3" fill="#F28E1E"/>
<circle cx="475.97" cy="404.03" r="3" fill="#F28E1E"/>
<circle cx="484.03" cy="403.39" r="3" fill="#F28E1E"/>
<circle cx="475.97" cy="415.81" r="3" fill="#F28E1E"/>
<circle cx="484.03" cy="424.19" r="3" fill="#F28E1E"/>
<circle cx="475.97" cy="426.13" r="3" fill="#F28E1E"/>
<circle cx="467.9" cy="432.26" r="3" fill="#F28E1E"/>
<circle cx="484.03" cy="431.13" r="3" fill="#F28E1E"/>
<path d="M504.19 406.7L507.43 412.7L500.95 412.7Z" fill="#E04A2C"/>
<path d="M512.26 408.31L515.5 414.31L509.02 414.31Z" fill="#E04A2C"/>
<path d="M508.23 411.54L511.47 417.54L504.99 417.54Z" fill="#E04A2C"/>
<path d="M504.19 417.35L507.43 423.35L500.95 423.35Z" fill="#E04A2C"/>
<path d="M508.55 421.7L511.79 427.7L505.31 427.7Z" fill="#E04A2C"/>
<path d="M504.19 425.73L507.43 431.73L500.95 431.73Z" fill="#E04A2C"/>
<path d="M512.26 428.15L515.5 434.15L509.02 434.15Z" fill="#E04A2C"/>
<path d="M504.19 433.47L507.43 439.47L500.95 439.47Z" fill="#E04A2C"/>
<path d="M512.26 433.8L515.5 439.8L509.02 439.8Z" fill="#E04A2C"/>
<path d="M500.48 435.89L503.72 441.89L497.24 441.89Z" fill="#E04A2C"/>
<path d="M508.23 435.41L511.47 441.41L504.99 441.41Z" fill="#E04A2C"/>
<path d="M516.29 437.02L519.53 443.02L513.05 443.02Z" fill="#E04A2C"/>
<rect x="537.62" y="418.11" width="5.72" height="5.72" fill="#7A0F12"/>
<rect x="534.72" y="423.75" width="5.72" height="5.72" fill="#7A0F12"/>
<rect x="546.17" y="428.59" width="5.72" height="5.72" fill="#7A0F12"/>
<rect x="529.56" y="431.82" width="5.72" height="5.72" fill="#7A0F12"/>
<rect x="537.62" y="434.24" width="5.72" height="5.72" fill="#7A0F12"/>
<rect x="546.17" y="435.53" width="5.72" height="5.72" fill="#7A0F12"/>
<rect x="534.72" y="436.66" width="5.72" height="5.72" fill="#7A0F12"/>
<rect x="540.04" y="442.3" width="5.72" height="5.72" fill="#7A0F12"/>
<rect x="534.72" y="445.53" width="5.72" height="5.72" fill="#7A0F12"/>
<rect x="540.04" y="448.75" width="5.72" height="5.72" fill="#7A0F12"/>
<rect x="537.62" y="461.17" width="5.72" height="5.72" fill="#7A0F12"/>
<rect x="537.62" y="394.4" width="5.72" height="5.72" fill="#7A0F12"/>
<path d="M336.5 318.1V475.3H562" stroke="#000" stroke-width="2" fill="none" stroke-linecap="square"/>
<path d="M336.5 475.3H330M336.5 467.44H333.1M336.5 459.58H333.1M336.5 451.72H333.1M336.5 443.86H333.1M336.5 436H330M336.5 428.14H333.1M336.5 420.28H333.1M336.5 412.42H333.1M336.5 404.56H333.1M336.5 396.7H330M336.5 388.84H333.1M336.5 380.98H333.1M336.5 373.12H333.1M336.5 365.26H333.1M336.5 357.4H330M336.5 349.54H333.1M336.5 341.68H333.1M336.5 333.82H333.1M336.5 325.96H333.1M336.5 318.1H330" stroke="#000" stroke-width="1.5" fill="none"/>
<text transform="translate(328.5 478.88) scale(1 1)" text-anchor="end" class="bt" font-size="10">0</text>
<text transform="translate(328.5 439.58) scale(1 1)" text-anchor="end" class="bt" font-size="10">1</text>
<text transform="translate(328.5 400.28) scale(1 1)" text-anchor="end" class="bt" font-size="10">2</text>
<text transform="translate(328.5 360.98) scale(1 1)" text-anchor="end" class="bt" font-size="10">3</text>
<text transform="translate(328.5 321.68) scale(1 1)" text-anchor="end" class="bt" font-size="10">4</text>
<path d="M390 475.3V481.6" stroke="#000" stroke-width="1.9"/>
<path d="M508.5 475.3V481.6" stroke="#000" stroke-width="1.9"/>
<text x="390" y="493" text-anchor="middle" class="b" font-size="9.9" textLength="72" lengthAdjust="spacingAndGlyphs">Untreated cells</text>
<text x="508.4" y="493" text-anchor="middle" class="b" font-size="9.9" textLength="108" lengthAdjust="spacingAndGlyphs">Rotenone treated cells</text>
<text transform="translate(317 396.2) rotate(-90)" text-anchor="middle" font-weight="bold" font-size="11.5" textLength="100.5" lengthAdjust="spacingAndGlyphs">Enrichment factor</text>
<text x="297.5" y="300.1" class="pl" font-size="15.2">(d)</text>
<path d="M357.5 407V326.2H473.5V334" stroke="#000" stroke-width="1.4" fill="none"/>
<text x="408.48 416.08" y="322.97" class="st" font-size="12.3">**</text>
<path d="M478.7 334V326.2H508.6V401" stroke="#000" stroke-width="1.4" fill="none"/>
<text x="490.28" y="322.97" class="st" font-size="12.3">*</text>
<path d="M476.1 318V296.2H541V389.5" stroke="#000" stroke-width="1.4" fill="none"/>
<text x="501.48 509.08" y="292.97" class="st" font-size="12.3">**</text>
<circle cx="599.7" cy="328.2" r="2.7" fill="#F28E1E"/>
<text x="615" y="331.72" font-size="12" class="lg" textLength="67.6" lengthAdjust="spacingAndGlyphs">Control mimic</text>
<path d="M599.7 344.43L602.62 349.83L596.78 349.83Z" fill="#E04A2C"/>
<text x="615" y="350.92" font-size="12" class="lg" textLength="51" lengthAdjust="spacingAndGlyphs">484 mimic</text>
<rect x="596.89" y="363.29" width="5.62" height="5.62" fill="#7A0F12"/>
<text x="615" y="369.62" font-size="12" class="lg" textLength="66.5" lengthAdjust="spacingAndGlyphs">30a-5p mimic</text>
</g>
</svg>
</body>
</html>
